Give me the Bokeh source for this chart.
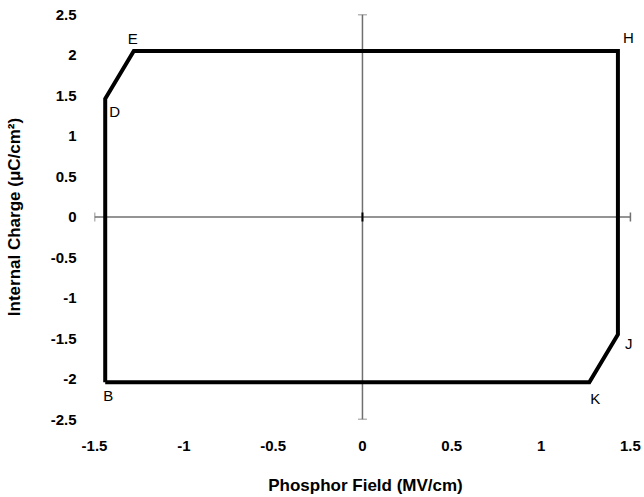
from bokeh.plotting import figure
from bokeh.models import Range1d, FixedTicker, Label
from bokeh.embed import file_html
from bokeh.resources import INLINE
import math

# ---- data ----
X_MIN, X_MAX = -1.5, 1.5
Y_MIN, Y_MAX = -2.5, 2.5
X_TICKS = [-1.5, -1.0, -0.5, 0.0, 0.5, 1.0, 1.5]
X_TICK_LABELS = ["-1.5", "-1", "-0.5", "0", "0.5", "1", "1.5"]
Y_TICKS = [-2.5, -2.0, -1.5, -1.0, -0.5, 0.0, 0.5, 1.0, 1.5, 2.0, 2.5]
Y_TICK_LABELS = ["-2.5", "-2", "-1.5", "-1", "-0.5", "0", "0.5", "1", "1.5", "2", "2.5"]

# loop vertices B -> D -> E -> H -> J -> K -> B
point_names = ["B", "D", "E", "H", "J", "K"]
field = [-1.44, -1.44, -1.28, 1.43, 1.43, 1.27]
charge = [-2.04, 1.46, 2.05, 2.05, -1.45, -2.04]

FONT = "Liberation Sans"
X_PAD = 0.034  # a little room right of the axis end, for the H and J letters

p = figure(width=644, height=497, output_backend="svg", toolbar_location=None,
           x_range=Range1d(X_MIN, X_MAX + X_PAD), y_range=Range1d(Y_MIN, Y_MAX),
           min_border_left=94, min_border_right=8, min_border_top=14, min_border_bottom=77)
p.outline_line_color = None
p.xgrid.visible = False
p.ygrid.visible = False
p.background_fill_color = "white"
p.border_fill_color = "white"

for ax, ticks, labels in ((p.xaxis[0], X_TICKS, X_TICK_LABELS), (p.yaxis[0], Y_TICKS, Y_TICK_LABELS)):
    ax.ticker = FixedTicker(ticks=ticks)
    ax.major_label_overrides = {t: l for t, l in zip(ticks, labels)}
    ax.axis_line_color = None
    ax.major_tick_line_color = None
    ax.minor_tick_line_color = None
    ax.major_label_text_font = FONT
    ax.major_label_text_font_style = "bold"
    ax.major_label_text_font_size = "15px"
    ax.major_label_text_color = "black"
    ax.axis_label_text_font = FONT
    ax.axis_label_text_font_style = "bold"
    ax.axis_label_text_font_size = "17px"
    ax.axis_label_text_color = "black"

p.xaxis.major_label_standoff = 15
p.yaxis.major_label_standoff = 12
p.xaxis.axis_label = "Phosphor Field (MV/cm)"
p.yaxis.axis_label = "Internal Charge (μC/cm²)"
p.xaxis.axis_label_standoff = 22
p.yaxis.axis_label_standoff = 24

# crossing axes through the origin
p.segment(x0=[X_MIN, 0], y0=[0, Y_MIN], x1=[X_MAX, 0], y1=[0, Y_MAX],
          line_color="#707070", line_width=1.5)
# end caps of the crossing axes and the origin tick
p.scatter(x=[0, 0], y=[Y_MIN, Y_MAX], marker="dash", size=9, angle=0,
          line_color="#707070", line_width=1.5)
p.scatter(x=[X_MIN, X_MAX], y=[0, 0], marker="dash", size=9, angle=math.pi / 2,
          line_color="#707070", line_width=1.5)
p.scatter(x=[0], y=[0], marker="dash", size=9, angle=math.pi / 2,
          line_color="black", line_width=2)

# hysteresis loop
loop_x = field + [field[0]]
loop_y = charge + [charge[0]]
p.line(loop_x, loop_y, line_color="black", line_width=4, line_join="miter")

# vertex letters
x_offsets = [-2, 4, -6, 5, 7, 1]
y_offsets = [-5, -4, 4, 5, -1, -8]
baselines = ["top", "top", "bottom", "bottom", "top", "top"]
for name, fx, cy, xo, yo, bl in zip(point_names, field, charge, x_offsets, y_offsets, baselines):
    p.add_layout(Label(x=fx, y=cy, text=name, x_offset=xo, y_offset=yo,
                       text_align="left", text_baseline=bl, text_font=FONT,
                       text_font_size="15px", text_color="black"))

open("out.html", "w").write(file_html(p, INLINE))
